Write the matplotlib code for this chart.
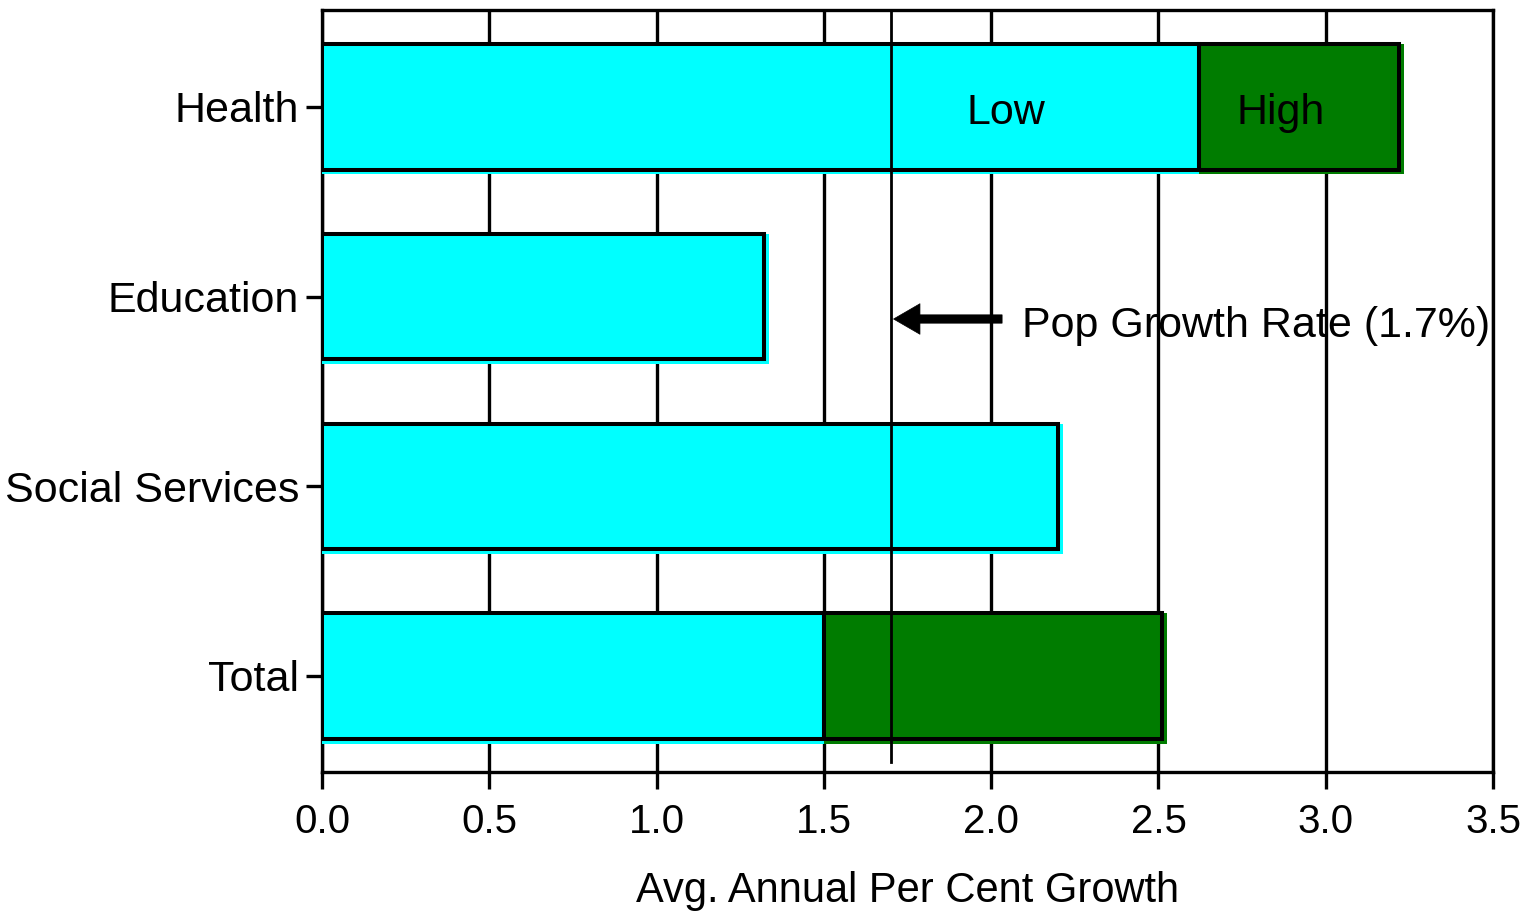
import matplotlib

matplotlib.use("Agg")
import matplotlib.pyplot as plt
import numpy as np

plt.rcParams["font.family"] = ["Liberation Sans", "DejaVu Sans"]

# ---- data -------------------------------------------------------------------
categories = ["Health", "Education", "Social Services", "Total"]
low = [2.62, 1.32, 2.20, 1.50]          # low-scenario growth, % per year
high = [3.22, None, None, 2.51]         # high-scenario growth where available
pop_rate = 1.7                          # population growth rate, %
xticks = [0.0, 0.5, 1.0, 1.5, 2.0, 2.5, 3.0, 3.5]

CYAN, GREEN = "#00ffff", "#007c00"

fig = plt.figure(figsize=(15.37, 9.19), dpi=100)
ax = fig.add_axes([0.2095, 0.16, 0.9714 - 0.2095, 0.9891 - 0.16])

ypos = np.arange(len(categories))[::-1]   # Health on top
bar_h = 0.66
# fill sits a few pixels right/below its outline, like the old export
fx, fy = 0.015, 0.026


def bar(y, left, right, color):
    ax.barh(y - fy / 2, right - left + fx, left=left, height=bar_h + fy,
            color=color, edgecolor="none", zorder=3)
    ax.barh(y, right - left, left=left, height=bar_h, facecolor="none",
            edgecolor="black", lw=2.9, zorder=4)


for y, lo, hi in zip(ypos, low, high):
    bar(y, 0, lo, CYAN)
    if hi is not None:
        bar(y, lo, hi, GREEN)

# scenario labels inside the Health bar
ax.text(2.045, ypos[0] - 0.03, "Low", ha="center", va="center",
        fontsize=31, color="black", zorder=6)
ax.text(2.865, ypos[0] - 0.03, "High", ha="center", va="center",
        fontsize=31, color="black", zorder=6)

# population growth reference line + annotation
ax.axvline(pop_rate, ymin=10 / 762, ymax=1, color="black", lw=2.0, zorder=5)
ax.annotate("", xy=(pop_rate, 1.882), xytext=(2.041, 1.882),
            arrowprops=dict(arrowstyle="simple,head_width=1.1,head_length=0.95,tail_width=0.3",
                            mutation_scale=20, fc="black", ec="black", lw=0.5),
            zorder=6)
ax.text(2.092, 1.846, "Pop Growth Rate (1.7%)", ha="left", va="center",
        fontsize=31, color="black", zorder=6)

# ---- axes -------------------------------------------------------------------
ax.set_xlim(0, 3.5)
ax.set_ylim(-0.506, 3.511)
ax.set_xticks(xticks)
ax.set_xticklabels([f"{t:.1f}" for t in xticks], fontsize=29)
ax.set_yticks(ypos)
ax.set_yticklabels(categories, fontsize=31)
ax.tick_params(axis="x", length=12, width=2.4, pad=10, direction="out")
ax.tick_params(axis="y", length=11.5, width=2.4, pad=5, direction="out")
ax.xaxis.grid(True, color="black", lw=2.4, zorder=0)
ax.set_axisbelow(True)
for s in ax.spines.values():
    s.set_linewidth(2.4)
ax.set_xlabel("Avg. Annual Per Cent Growth", fontsize=30, labelpad=22)

fig.savefig("out.png", dpi=100, facecolor="white")
